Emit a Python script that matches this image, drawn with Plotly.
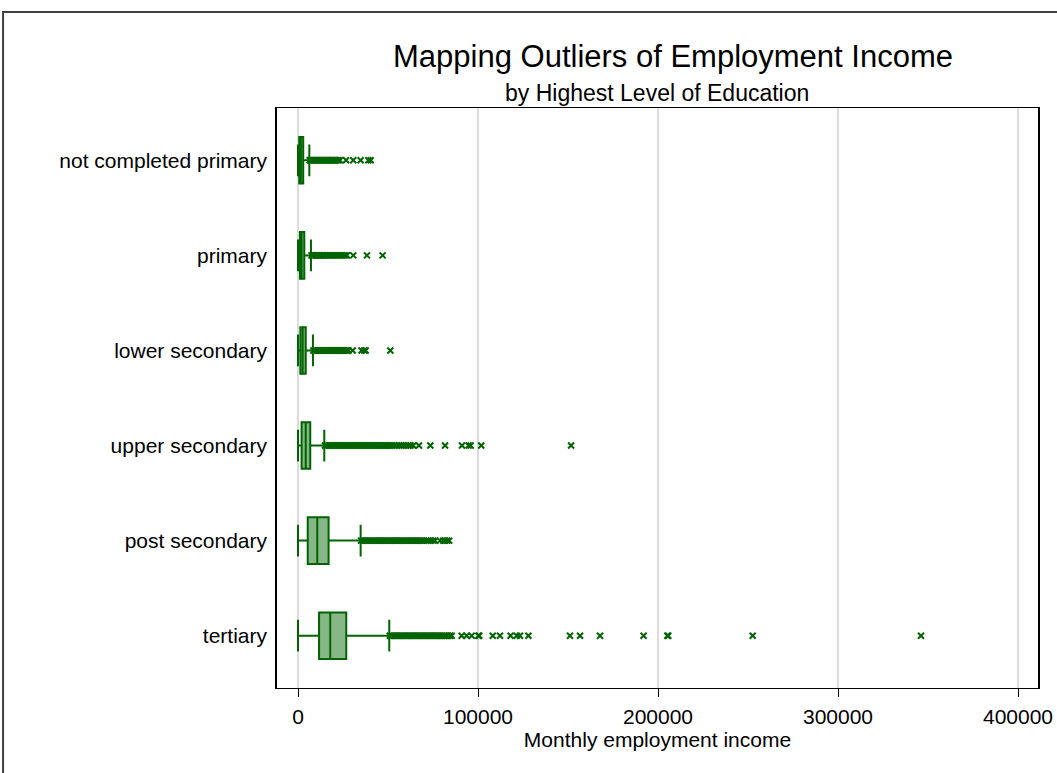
import plotly.graph_objects as go

# Education levels, top to bottom
categories = [
    "not completed primary",
    "primary",
    "lower secondary",
    "upper secondary",
    "post secondary",
    "tertiary",
]

# Box statistics (monthly employment income)
lower_whisker = [0, 0, 0, 0, 0, 0]
q1 = [700, 1100, 1300, 2000, 5400, 11700]
median = [1600, 2000, 2600, 4300, 10700, 17900]
q3 = [2900, 3500, 4300, 6800, 17000, 26800]
upper_whisker = [6300, 7200, 8300, 14600, 34800, 50700]

# Outside values per education level
outliers_not_completed_primary = [
    6500, 7200, 8000, 8800, 9500, 10300, 11000, 11800, 12500, 13300, 14000,
    14800, 15500, 16300, 17000, 17800, 18500, 19300, 20000, 20800, 21500,
    22400, 23300, 26700, 30700, 34800, 39100, 40400,
]
outliers_primary = [
    7500, 8200, 9000, 9700, 10500, 11200, 12000, 12700, 13500, 14200, 15000,
    15800, 16600, 17500, 18500, 19500, 20500, 21500, 22500, 23500, 24600,
    25600, 26500, 27200, 30700, 38300, 47000,
]
outliers_lower_secondary = [
    8600, 9400, 10100, 10900, 11600, 12400, 13100, 13900, 14600, 15400, 16100,
    16900, 17600, 18400, 19100, 19900, 20600, 21400, 22100, 22900, 23600,
    24400, 25100, 25900, 26600, 27400, 28000, 30400, 35300, 36800, 37600, 51300,
]
outliers_upper_secondary = [
    15000, 16000, 17000, 18000, 19000, 20000, 21000, 22000, 23000, 24000,
    25000, 26000, 27000, 28000, 29000, 30000, 31000, 32000, 33000, 34000,
    35000, 36000, 37000, 38000, 39000, 40000, 41000, 42000, 43000, 44000,
    45000, 46000, 47000, 48000, 49000, 50000, 51000, 52000, 53500, 55000,
    56300, 57500, 58700, 60000, 61200, 62500, 64000, 67200, 73500, 81700,
    91100, 94800, 95900, 101800, 151700,
]
outliers_post_secondary = [
    35000, 36000, 37000, 38000, 39000, 40000, 41000, 42000, 43000, 44000,
    45000, 46000, 47000, 48000, 49000, 50000, 51000, 52000, 53000, 54000,
    55000, 56000, 57000, 58000, 59000, 60000, 61000, 62000, 63000, 64000,
    65000, 66000, 67000, 68000, 69000, 70000, 71300, 72500, 73800, 75000,
    76100, 78900, 80700, 81800, 82900, 84000,
]
outliers_tertiary = [
    51000, 52000, 53000, 54000, 55000, 56000, 57000, 58000, 59000, 60000,
    61000, 62000, 63000, 64000, 65000, 66000, 67000, 68000, 69000, 70000,
    71000, 72000, 73000, 74000, 75000, 76000, 77000, 78000, 79000, 80000,
    81200, 82300, 83500, 84500, 85400, 90900, 93700, 96500, 100200, 100700,
    108200, 112200, 118100, 121500, 123300, 128000, 151100, 156700, 167800,
    192000, 205200, 205700, 252600, 346100,
]
outliers = [
    outliers_not_completed_primary,
    outliers_primary,
    outliers_lower_secondary,
    outliers_upper_secondary,
    outliers_post_secondary,
    outliers_tertiary,
]

x_ticks = [0, 100000, 200000, 300000, 400000]

GREEN = "#006400"
FONT = "Liberation Sans, Arial, sans-serif"

fig = go.Figure()

fig.add_trace(go.Box(
    y=categories,
    q1=q1,
    median=median,
    q3=q3,
    lowerfence=lower_whisker,
    upperfence=upper_whisker,
    orientation="h",
    boxpoints=False,
    width=0.49,
    whiskerwidth=0.68,
    line=dict(color=GREEN, width=2),
    fillcolor="rgba(0,100,0,0.47)",
    showlegend=False,
    hoverinfo="skip",
))

for cat, vals in zip(categories, outliers):
    fig.add_trace(go.Scatter(
        x=vals,
        y=[cat] * len(vals),
        mode="markers",
        marker=dict(symbol="x-thin", size=6, color=GREEN,
                    line=dict(color=GREEN, width=2)),
        showlegend=False,
        hoverinfo="x",
    ))

# Outer graph border
fig.add_shape(
    type="rect", xref="paper", yref="paper",
    x0=-0.3600, x1=1.2, y0=-0.3, y1=1.1655,
    line=dict(color="#404040", width=2),
    layer="below",
)

fig.add_annotation(
    text="Mapping Outliers of Employment Income",
    xref="paper", yref="paper", x=0.52, y=1.088,
    xanchor="center", yanchor="middle", showarrow=False,
    font=dict(family=FONT, size=31, color="black"),
)
fig.add_annotation(
    text="by Highest Level of Education",
    xref="paper", yref="paper", x=0.499, y=1.026,
    xanchor="center", yanchor="middle", showarrow=False,
    font=dict(family=FONT, size=23, color="black"),
)

fig.update_layout(
    width=1057,
    height=773,
    margin=dict(l=277, r=19, t=108, b=85),
    paper_bgcolor="white",
    plot_bgcolor="white",
    font=dict(family=FONT, color="black"),
    xaxis=dict(
        automargin=False,
        range=[-11667, 411111],
        tickvals=x_ticks,
        ticktext=[str(v) for v in x_ticks],
        ticks="outside",
        ticklen=8,
        tickcolor="black",
        tickwidth=1,
        ticklabelstandoff=2,
        tickfont=dict(family=FONT, size=21, color="black"),
        showgrid=True,
        gridcolor="#dcdcdc",
        gridwidth=2,
        zeroline=False,
        showline=True,
        linecolor="black",
        linewidth=1,
        mirror=True,
        title=dict(text="Monthly employment income",
                   font=dict(family=FONT, size=21, color="black"),
                   standoff=5),
    ),
    yaxis=dict(
        automargin=False,
        type="category",
        categoryorder="array",
        categoryarray=categories,
        range=[5.55, -0.55],
        ticks="",
        tickfont=dict(family=FONT, size=21, color="black"),
        ticklabelstandoff=4,
        showgrid=False,
        zeroline=False,
        showline=True,
        linecolor="black",
        linewidth=1.5,
        mirror=True,
    ),
)

fig.write_html("out.html")
